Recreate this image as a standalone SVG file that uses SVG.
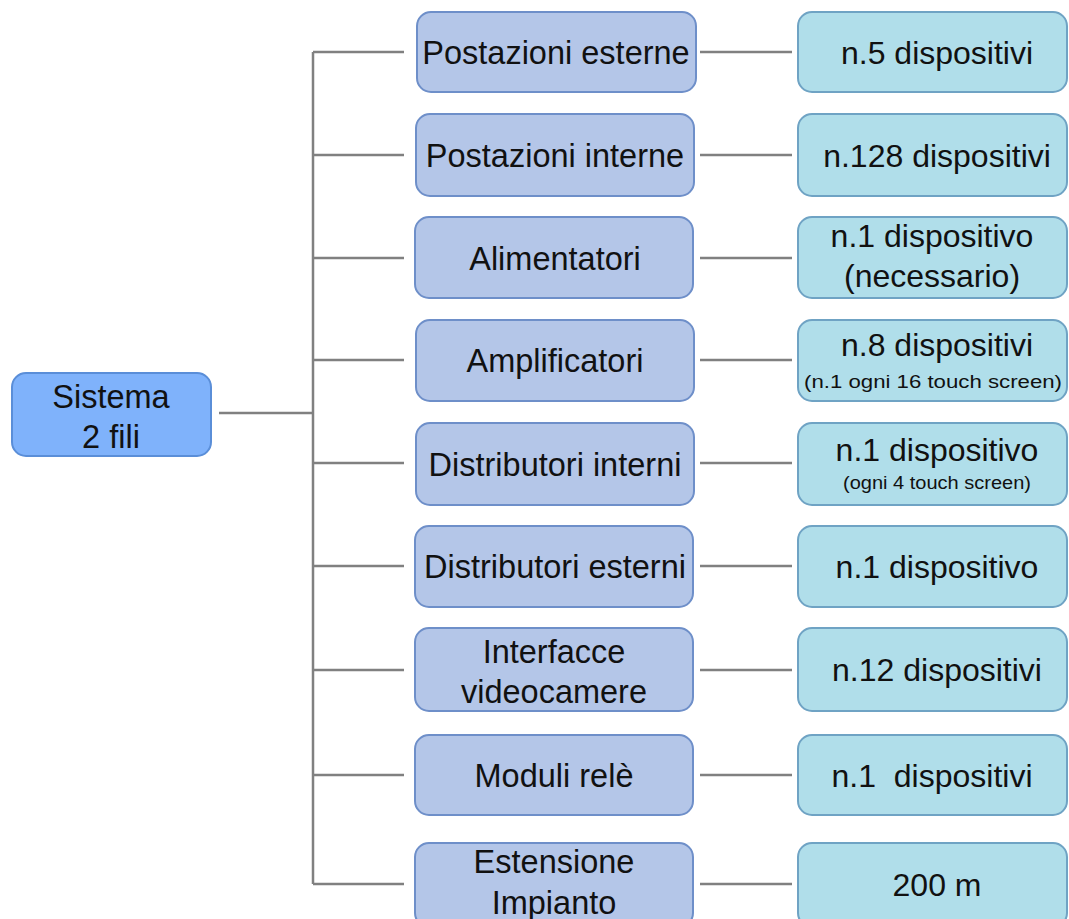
<svg xmlns="http://www.w3.org/2000/svg" width="1069" height="919" viewBox="0 0 1069 919">
<style>
.root{fill:#7fb2fb;stroke:#5a8ed8;stroke-width:2}
.mid{fill:#b4c6e8;stroke:#6e8fc9;stroke-width:2}
.val{fill:#b0deea;stroke:#6fa3c4;stroke-width:2}
.t{font-family:"Liberation Sans",Arial,sans-serif;font-size:32.5px;fill:#111111;text-anchor:middle}
.r{font-family:"Liberation Sans",Arial,sans-serif;font-size:32px;fill:#111111;text-anchor:middle}
.s{font-family:"Liberation Sans",Arial,sans-serif;font-size:18px;fill:#111111;text-anchor:middle}
.c{stroke:#808080;stroke-width:2.5;fill:none}
</style>
<rect width="1069" height="919" fill="#ffffff"/>
<g id="connectors" class="c">
<path d="M219 413H313M313 52V884"/>
<path d="M313 52H404M313 155H404M313 258H404M313 360H404M313 463H404M313 566H404M313 670H404M313 775H404M313 884H404"/>
<path d="M700 52H792M700 155H792M700 258H792M700 360H792M700 463H792M700 566H792M700 670H792M700 775H792M700 884H792"/>
</g>
<g id="n-sistema"><rect class="root" x="12" y="373" width="199" height="83" rx="14"/><text class="t" x="111" y="408">Sistema</text><text class="t" x="111" y="448">2 fili</text></g>
<g id="n-post-est"><rect class="mid" x="417" y="12" width="279" height="80" rx="14"/><text class="t" x="556" y="64">Postazioni esterne</text></g>
<g id="n-post-int"><rect class="mid" x="416" y="114" width="278" height="82" rx="14"/><text class="t" x="555" y="167">Postazioni interne</text></g>
<g id="n-alim"><rect class="mid" x="415" y="217" width="278" height="81" rx="14"/><text class="t" x="555" y="270">Alimentatori</text></g>
<g id="n-ampl"><rect class="mid" x="416" y="320" width="278" height="81" rx="14"/><text class="t" x="555" y="372">Amplificatori</text></g>
<g id="n-dist-int"><rect class="mid" x="416" y="423" width="278" height="82" rx="14"/><text class="t" x="555" y="476">Distributori interni</text></g>
<g id="n-dist-est"><rect class="mid" x="415" y="526" width="278" height="81" rx="14"/><text class="t" x="555" y="578">Distributori esterni</text></g>
<g id="n-interf"><rect class="mid" x="415" y="628" width="278" height="83" rx="14"/><text class="t" x="554" y="663">Interfacce</text><text class="t" x="554" y="703">videocamere</text></g>
<g id="n-moduli"><rect class="mid" x="415" y="735" width="278" height="80" rx="14"/><text class="t" x="554" y="787">Moduli relè</text></g>
<g id="n-estens"><rect class="mid" x="415" y="843" width="278" height="84" rx="14"/><text class="t" x="554" y="873">Estensione</text><text class="t" x="554" y="914">Impianto</text></g>
<g id="v-1"><rect class="val" x="798" y="12" width="269" height="80" rx="14"/><text class="r" x="937" y="64">n.5 dispositivi</text></g>
<g id="v-2"><rect class="val" x="798" y="114" width="269" height="82" rx="14"/><text class="r" x="937" y="167">n.128 dispositivi</text></g>
<g id="v-3"><rect class="val" x="798" y="217" width="269" height="81" rx="14"/><text class="r" x="932" y="247">n.1 dispositivo</text><text class="r" x="932" y="287">(necessario)</text></g>
<g id="v-4"><rect class="val" x="798" y="320" width="269" height="81" rx="14"/><text class="r" x="937" y="356">n.8 dispositivi</text><text class="s" x="933" y="388" textLength="258" lengthAdjust="spacingAndGlyphs">(n.1 ogni 16 touch screen)</text></g>
<g id="v-5"><rect class="val" x="798" y="423" width="269" height="82" rx="14"/><text class="r" x="937" y="461">n.1 dispositivo</text><text class="s" x="937" y="489" textLength="188" lengthAdjust="spacingAndGlyphs">(ogni 4 touch screen)</text></g>
<g id="v-6"><rect class="val" x="798" y="526" width="269" height="81" rx="14"/><text class="r" x="937" y="578">n.1 dispositivo</text></g>
<g id="v-7"><rect class="val" x="798" y="628" width="269" height="83" rx="14"/><text class="r" x="937" y="681">n.12 dispositivi</text></g>
<g id="v-8"><rect class="val" x="798" y="735" width="269" height="80" rx="14"/><text class="r" x="932" y="787" xml:space="preserve">n.1  dispositivi</text></g>
<g id="v-9"><rect class="val" x="798" y="843" width="269" height="84" rx="14"/><text class="r" x="937" y="896">200 m</text></g>
</svg>
